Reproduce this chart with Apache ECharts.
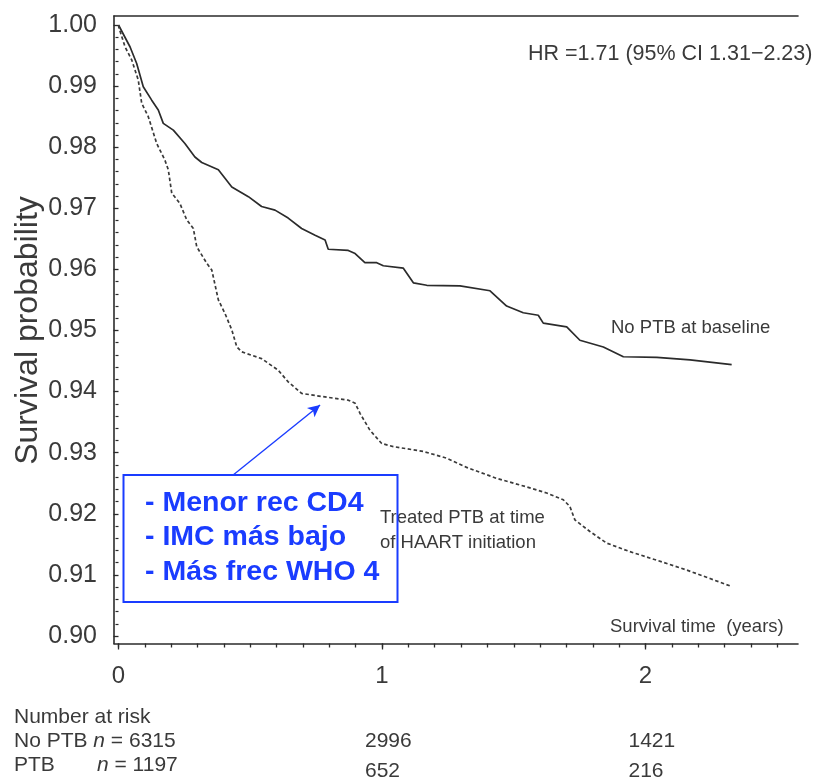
<!DOCTYPE html>
<html>
<head>
<meta charset="utf-8">
<title>Survival by PTB status</title>
<script src="https://cdn.jsdelivr.net/npm/echarts@6/dist/echarts.min.js"></script>
<style>
  html, body { margin: 0; padding: 0; background: #fff; }
  #chart { width: 817px; height: 777px; }
</style>
</head>
<body>
<div id="chart"></div>
<script>
// Kaplan-Meier estimates (time in years, survival probability)
const timesNoPTB = [0, 0.002, 0.044, 0.069, 0.094, 0.126, 0.151, 0.170, 0.208, 0.252, 0.290, 0.316, 0.379, 0.430, 0.493, 0.543, 0.594, 0.644, 0.695, 0.746, 0.784, 0.796, 0.872, 0.898, 0.935, 0.980, 1.005, 1.081, 1.119, 1.170, 1.296, 1.410, 1.473, 1.536, 1.593, 1.612, 1.701, 1.751, 1.840, 1.916, 2.043, 2.169, 2.327];
const survNoPTB  = [1.0, 0.9997, 0.9964, 0.9937, 0.9899, 0.9877, 0.9861, 0.9839, 0.9828, 0.9806, 0.9784, 0.9775, 0.9763, 0.9735, 0.9719, 0.9703, 0.9697, 0.9684, 0.9667, 0.9656, 0.9648, 0.9633, 0.9631, 0.9626, 0.9611, 0.9611, 0.9606, 0.9602, 0.9578, 0.9574, 0.9573, 0.9565, 0.9540, 0.9529, 0.9525, 0.9512, 0.9506, 0.9484, 0.9473, 0.9457, 0.9456, 0.9452, 0.9444];

const timesPTB = [0, 0.002, 0.025, 0.050, 0.075, 0.088, 0.113, 0.145, 0.176, 0.189, 0.202, 0.233, 0.259, 0.284, 0.297, 0.335, 0.354, 0.379, 0.404, 0.430, 0.449, 0.468, 0.543, 0.606, 0.644, 0.695, 0.771, 0.872, 0.898, 0.917, 0.954, 0.999, 1.043, 1.157, 1.246, 1.321, 1.435, 1.549, 1.625, 1.688, 1.713, 1.732, 1.789, 1.853, 1.941, 2.043, 2.156, 2.245, 2.327];
const survPTB  = [1.0, 0.9995, 0.9964, 0.9943, 0.9910, 0.9872, 0.9850, 0.9806, 0.9779, 0.9763, 0.9725, 0.9708, 0.9681, 0.9667, 0.9637, 0.9610, 0.9599, 0.9550, 0.9528, 0.9501, 0.9473, 0.9465, 0.9454, 0.9435, 0.9416, 0.9397, 0.9392, 0.9386, 0.9381, 0.9364, 0.9337, 0.9315, 0.9310, 0.9302, 0.9291, 0.9276, 0.9258, 0.9244, 0.9234, 0.9223, 0.9212, 0.9190, 0.9171, 0.9152, 0.9138, 0.9124, 0.9108, 0.9094, 0.9081];

// Axis ticks
const xMajorTicks = [0, 1, 2];
const xMinorTicks = [0, 0.1, 0.2, 0.3, 0.4, 0.5, 0.6, 0.7, 0.8, 0.9, 1, 1.1, 1.2, 1.3, 1.4, 1.5, 1.6, 1.7, 1.8, 1.9, 2, 2.1, 2.2, 2.3, 2.4, 2.5];
const yTickLabels = ['0.90', '0.91', '0.92', '0.93', '0.94', '0.95', '0.96', '0.97', '0.98', '0.99', '1.00'];

// Number at risk table
const riskGroups = ['No PTB', 'PTB'];
const riskN = [6315, 1197];
const riskTimes = [1, 2];
const riskNoPTB = [2996, 1421];
const riskPTB = [652, 216];

// Annotation
const hrText = 'HR =1.71 (95% CI 1.31\u22122.23)';
const noteLines = ['- Menor rec CD4', '- IMC m\u00e1s bajo', '- M\u00e1s frec WHO 4'];
const arrowFrom = [0.435, 0.92635];
const arrowTo = [0.765, 0.9378];

const FONT = "'Liberation Sans', Arial, Helvetica, sans-serif";
const INK = '#2b2b2b';
const TEXT = '#3a3a3a';
const BLUE = '#1a3cff';

const zip = (xs, ys) => xs.map((x, i) => [x, ys[i]]);

const chart = echarts.init(document.getElementById('chart'), null, { renderer: 'canvas' });

const frameAxis = (extra) => Object.assign({
  gridIndex: 1, type: 'value', min: 0, max: 1,
  axisLine: { show: true, lineStyle: { color: INK, width: 1.6 } },
  axisTick: { show: false }, axisLabel: { show: false }, splitLine: { show: false }
}, extra);

const option = {
  animation: false,
  backgroundColor: '#fff',
  grid: [
    { left: 118.5, right: 39.75, top: 25, bottom: 141, containLabel: false, outerBoundsMode: 'none' },
    { left: 114, right: 19, top: 16, bottom: 133.5, containLabel: false, outerBoundsMode: 'none' }
  ],
  xAxis: [
    {
      gridIndex: 0, type: 'value', position: 'bottom', min: 0, max: 2.5, offset: 7.5,
      axisLine: { show: false },
      axisTick: { show: true, customValues: xMinorTicks, length: 4, lineStyle: { color: INK, width: 1.3 } },
      axisLabel: {
        show: true, customValues: xMajorTicks, margin: 21,
        fontFamily: FONT, fontSize: 24, color: TEXT,
        formatter: v => String(Math.round(v))
      },
      splitLine: { show: false }
    },
    {
      gridIndex: 0, type: 'value', position: 'bottom', min: 0, max: 2.5, offset: 7.5,
      axisLine: { show: false },
      axisTick: { show: true, customValues: xMajorTicks, length: 6, lineStyle: { color: INK, width: 1.3 } },
      axisLabel: { show: false },
      splitLine: { show: false }
    },
    frameAxis({ position: 'bottom' }),
    frameAxis({ position: 'top' })
  ],
  yAxis: [
    {
      gridIndex: 0, type: 'value', min: 0.90, max: 1.00, interval: 0.01, offset: 4.5,
      name: 'Survival probability', nameLocation: 'middle', nameGap: 70, nameMoveOverlap: false,
      nameTextStyle: { fontFamily: FONT, fontSize: 32, color: TEXT },
      axisLine: { show: false },
      axisTick: { show: true, length: 5, lineStyle: { color: INK, width: 1.3 } },
      minorTick: { show: true, splitNumber: 5, length: 3, lineStyle: { color: INK, width: 1.2 } },
      axisLabel: {
        margin: 17, fontFamily: FONT, fontSize: 25, color: TEXT,
        formatter: v => yTickLabels[Math.round((v - 0.90) * 100)]
      },
      splitLine: { show: false }
    },
    frameAxis({ position: 'left' })
  ],
  series: [
    {
      name: 'No PTB at baseline', type: 'line', xAxisIndex: 0, yAxisIndex: 0,
      data: zip(timesNoPTB, survNoPTB), showSymbol: false, symbol: 'none',
      lineStyle: { color: INK, width: 1.7 }, z: 3
    },
    {
      name: 'Treated PTB at time of HAART initiation', type: 'line', xAxisIndex: 0, yAxisIndex: 0,
      data: zip(timesPTB, survPTB), showSymbol: false, symbol: 'none',
      lineStyle: { color: '#3a3a3a', width: 1.7, type: [3.5, 2.5] }, z: 3,
      markLine: {
        silent: true, symbol: ['none', 'arrow'], symbolSize: [9, 12],
        label: { show: false },
        lineStyle: { color: BLUE, width: 1.4, type: 'solid' },
        data: [[{ coord: arrowFrom }, { coord: arrowTo }]]
      }
    }
  ]
};

chart.setOption(option);

// Text annotations and the number-at-risk table, placed from the axis scales
const px = (x, y) => chart.convertToPixel({ xAxisIndex: 0, yAxisIndex: 0 }, [x, y]);
const txt = (text, x, y, size, extra) => ({
  type: 'text', x, y, z: 10,
  style: Object.assign({ text, fontFamily: FONT, fontSize: size, fill: TEXT, verticalAlign: 'middle', align: 'left' }, extra || {})
});

const graphics = [];
graphics.push(txt(hrText, 528, 54, 21.5));
graphics.push(txt('No PTB at baseline', 611, 328, 18.5));
graphics.push(txt('Treated PTB at time', 380, 518, 18.5));
graphics.push(txt('of HAART initiation', 380, 543, 18.5));
graphics.push(txt('Survival time  (years)', 610, 627, 18.5));

// Note box
graphics.push({
  type: 'rect', z: 12,
  shape: { x: 123.5, y: 475, width: 274, height: 127 },
  style: { fill: 'none', stroke: BLUE, lineWidth: 2 }
});
noteLines.forEach((line, i) => {
  graphics.push(txt(line, 145, 503 + i * 34.5, 28.5, { fill: BLUE, fontWeight: 'bold' }));
});

// Number at risk
graphics.push(txt('Number at risk', 14, 717, 21));
graphics.push({
  type: 'text', x: 14, y: 741, z: 10,
  style: {
    text: riskGroups[0] + ' {i|n} = ' + riskN[0],
    fontFamily: FONT, fontSize: 21, fill: TEXT, verticalAlign: 'middle',
    rich: { i: { fontStyle: 'italic', fontFamily: FONT, fontSize: 21, fill: TEXT } }
  }
});
graphics.push(txt(riskGroups[1], 14, 765, 21));
graphics.push({
  type: 'text', x: 97, y: 765, z: 10,
  style: {
    text: '{i|n} = ' + riskN[1],
    fontFamily: FONT, fontSize: 21, fill: TEXT, verticalAlign: 'middle',
    rich: { i: { fontStyle: 'italic', fontFamily: FONT, fontSize: 21, fill: TEXT } }
  }
});
riskTimes.forEach((t, i) => {
  const tx = px(t, 0.9)[0] - 17;
  graphics.push(txt(String(riskNoPTB[i]), tx, 741, 21));
  graphics.push(txt(String(riskPTB[i]), tx, 771, 21));
});

chart.setOption({ graphic: graphics });
</script>
</body>
</html>
